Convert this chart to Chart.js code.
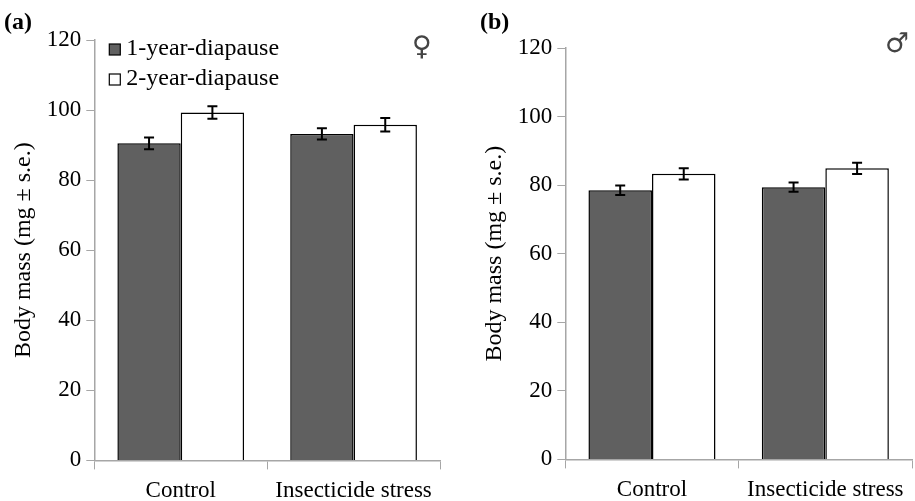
<!DOCTYPE html>
<html>
<head>
<meta charset="utf-8">
<script src="https://cdn.jsdelivr.net/npm/chart.js@4.4.1/dist/chart.umd.min.js"></script>
<style>
  body { margin: 0; background: #fff; overflow: hidden; }
  #wrap { position: relative; width: 915px; height: 501px; overflow: hidden; font-family: "Liberation Serif", serif; }
  canvas { position: absolute; top: 13px; }
  .tag { position: absolute; font-weight: bold; font-size: 24px; }
  .sex { position: absolute; font-size: 27px; line-height: 1; font-family: "DejaVu Sans", sans-serif; color: #444; }
</style>
</head>
<body>
<div id="wrap">
  <canvas id="chartA" width="460" height="501" style="left:0"></canvas>
  <canvas id="chartB" width="445" height="501" style="left:470px"></canvas>
  <div class="tag" style="left:4px;top:8px">(a)</div>
  <div class="tag" style="left:480px;top:8px">(b)</div>
  <div class="sex" style="left:412px;top:32px">♀</div>
  <div class="sex" style="left:885px;top:29px">♂</div>
</div>
<script>
// Data
const groups = ["Control", "Insecticide stress"];
const seriesNames = ["1-year-diapause", "2-year-diapause"];
const yTicks = [0, 20, 40, 60, 80, 100, 120];

// females (a)
const femaleOneYear = [90.5, 93.2];
const femaleOneYearSe = [1.7, 1.6];
const femaleTwoYear = [99.3, 95.8];
const femaleTwoYearSe = [1.8, 1.9];

// males (b)
const maleOneYear = [78.5, 79.4];
const maleOneYearSe = [1.4, 1.35];
const maleTwoYear = [83.3, 84.9];
const maleTwoYearSe = [1.65, 1.65];

const serif = "'Liberation Serif', 'Times New Roman', serif";
const axisGray = "#a6a6a6";

// draws the ± s.e. whiskers on top of each bar
const errorBars = {
  id: "errorBars",
  afterDatasetsDraw(chart) {
    const ctx = chart.ctx;
    const y = chart.scales.y;
    ctx.save();
    ctx.strokeStyle = "#000";
    ctx.lineWidth = 2;
    chart.data.datasets.forEach((ds, i) => {
      chart.getDatasetMeta(i).data.forEach((bar, j) => {
        const v = ds.data[j], e = ds.errors[j];
        const top = y.getPixelForValue(v + e);
        const bot = y.getPixelForValue(v - e);
        ctx.beginPath();
        ctx.moveTo(bar.x, top); ctx.lineTo(bar.x, bot);
        ctx.moveTo(bar.x - 5, top); ctx.lineTo(bar.x + 5, top);
        ctx.moveTo(bar.x - 5, bot); ctx.lineTo(bar.x + 5, bot);
        ctx.stroke();
      });
    });
    ctx.restore();
  }
};

// small legend in the top-left corner of the plot, only if asked for
const cornerLegend = {
  id: "cornerLegend",
  afterDraw(chart, args, opts) {
    if (!opts.show) return;
    const ctx = chart.ctx;
    const area = chart.chartArea;
    ctx.save();
    ctx.font = "24px " + serif;
    ctx.textBaseline = "middle";
    chart.data.datasets.forEach((ds, i) => {
      const bx = area.left + 15, by = area.top + 4 + i * 30;
      ctx.fillStyle = ds.backgroundColor;
      ctx.fillRect(bx, by, 11, 11);
      ctx.strokeStyle = "#000";
      ctx.lineWidth = 1.2;
      ctx.strokeRect(bx, by, 11, 11);
      ctx.fillStyle = "#000";
      ctx.fillText(ds.label, bx + 17, by + 5);
    });
    ctx.restore();
  }
};

function makeChart(id, one, oneSe, two, twoSe, showLegend, pad) {
  return new Chart(document.getElementById(id), {
    type: "bar",
    data: {
      labels: groups,
      datasets: [
        { label: seriesNames[0], data: one, errors: oneSe, backgroundColor: "#606060", borderColor: "#000", borderWidth: 1.5 },
        { label: seriesNames[1], data: two, errors: twoSe, backgroundColor: "#fff", borderColor: "#000", borderWidth: 1.5 }
      ]
    },
    options: {
      responsive: false,
      animation: false,
      layout: { padding: pad },
      datasets: { bar: { categoryPercentage: 0.733, barPercentage: 1 } },
      plugins: {
        legend: { display: false },
        cornerLegend: { show: showLegend },
        tooltip: { enabled: false }
      },
      scales: {
        x: {
          grid: { display: true, drawOnChartArea: false, offset: true, color: axisGray, tickLength: 9 },
          border: { color: axisGray, width: 1.5 },
          ticks: { color: "#000", font: { family: serif, size: 23 }, padding: 8 }
        },
        y: {
          min: 0,
          max: 120,
          afterBuildTicks(scale) { scale.ticks = yTicks.map(v => ({ value: v })); },
          grid: { display: true, drawOnChartArea: false, color: axisGray, tickLength: 8 },
          border: { color: axisGray, width: 1.5 },
          ticks: { color: "#000", font: { family: serif, size: 23 }, padding: 5 },
          title: { display: true, text: "Body mass (mg ± s.e.)", color: "#000", font: { family: serif, size: 24 }, padding: 4 }
        }
      }
    },
    plugins: [errorBars, cornerLegend]
  });
}

makeChart("chartA", femaleOneYear, femaleOneYearSe, femaleTwoYear, femaleTwoYearSe, true,
  { top: 27, right: 20, left: 5, bottom: 1 });
makeChart("chartB", maleOneYear, maleOneYearSe, maleTwoYear, maleTwoYearSe, false,
  { top: 35, right: 3, left: 6, bottom: 2 });
</script>
</body>
</html>
